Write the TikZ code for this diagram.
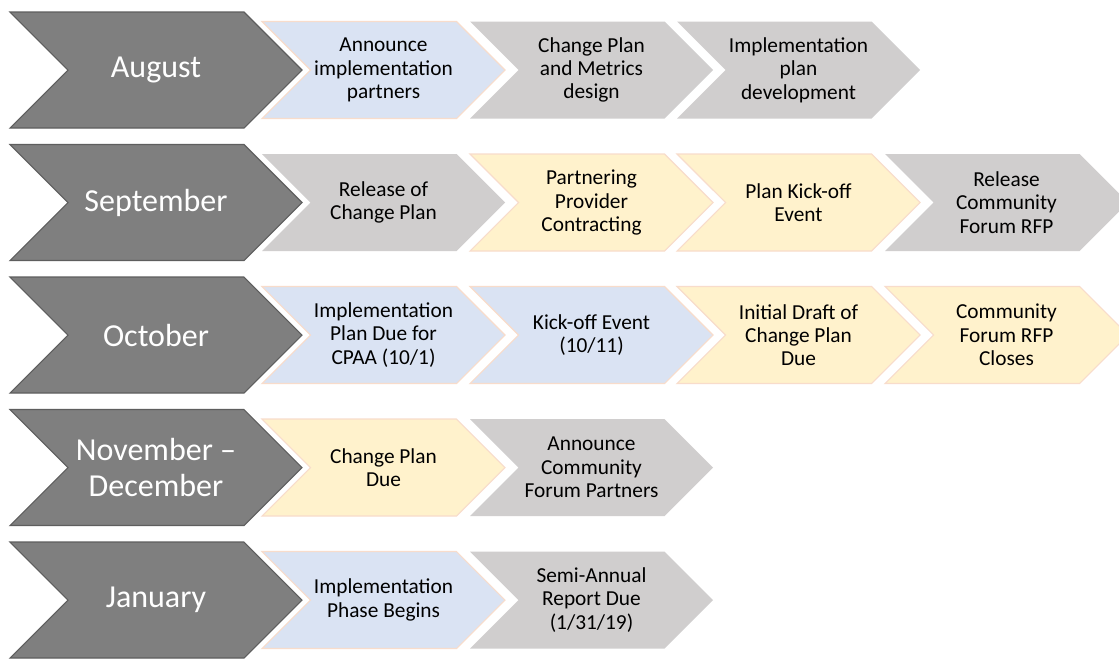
\documentclass[tikz,border=0pt]{standalone}
\usepackage{fontspec}
\setmainfont{Carlito}
\definecolor{monthfill}{HTML}{7F7F7F}
\definecolor{monthedge}{HTML}{5E5E5E}
\definecolor{bluefill}{HTML}{DAE3F3}
\definecolor{grayfill}{HTML}{D0CECE}
\definecolor{yellowfill}{HTML}{FFF2CC}
\definecolor{peachline}{HTML}{F8DCCB}
\tikzset{
  bluetask/.style={fill=bluefill, draw=peachline, line width=0.8pt},
  graytask/.style={fill=grayfill},
  yellowtask/.style={fill=yellowfill, draw=peachline, line width=0.8pt},
  tasktext/.style={align=center, inner sep=0pt, text=black,
    font=\fontsize{16}{17.5}\selectfont},
  monthtext/.style={align=center, inner sep=0pt, text=white,
    font=\fontsize{24}{27.5}\selectfont},
}
% task chevron: style, node name, left x, centre y, text
\newcommand\taskbox[5]{%
  \path[#1] (#3,#4-48.5) -- (#3+194.5,#4-48.5) -- (#3+243,#4)
    -- (#3+194.5,#4+48.5) -- (#3,#4+48.5) -- (#3+48.5,#4) -- cycle;
  \node[tasktext] (#2) at (#3+121.5,#4) {#5};}
% month chevron: node name, centre y, text
\newcommand\monthpath[1]{(10,#1-58) -- (244,#1-58)
    -- (302,#1) -- (244,#1+58) -- (10,#1+58) -- (68,#1) -- cycle}
\newcommand\monthbox[3]{%
  \path[draw=white, line width=4.5pt, line join=miter] \monthpath{#2};
  \path[fill=monthfill, draw=monthedge, line width=0.8pt] \monthpath{#2};
  \node[monthtext] (#1) at (156,#2) {#3};}
\begin{document}
\begin{tikzpicture}[x=0.75pt, y=-0.75pt]
\clip (0,0) rectangle (1119,658);
\fill[white] (0,0) rectangle (1119,658);

% August
\taskbox{bluetask}{aug1}{262}{70}{Announce\\implementation\\partners}
\taskbox{graytask}{aug2}{470}{70}{Change Plan\\and Metrics\\design}
\taskbox{graytask}{aug3}{677}{70}{Implementation\\plan\\development}
\monthbox{aug}{70}{August}

% September
\taskbox{graytask}{sep1}{262}{202.5}{Release of\\Change Plan}
\taskbox{yellowtask}{sep2}{470}{202.5}{Partnering\\Provider\\Contracting}
\taskbox{yellowtask}{sep3}{677}{202.5}{Plan Kick-off\\Event}
\taskbox{graytask}{sep4}{885}{202.5}{Release\\Community\\Forum RFP}
\monthbox{sep}{202.5}{September}

% October
\taskbox{bluetask}{oct1}{262}{335}{Implementation\\Plan Due for\\CPAA (10/1)}
\taskbox{bluetask}{oct2}{470}{335}{Kick-off Event\\(10/11)}
\taskbox{yellowtask}{oct3}{677}{335}{Initial Draft of\\Change Plan\\Due}
\taskbox{yellowtask}{oct4}{885}{335}{Community\\Forum RFP\\Closes}
\monthbox{oct}{335}{October}

% November - December
\taskbox{yellowtask}{nov1}{262}{467.5}{Change Plan\\Due}
\taskbox{graytask}{nov2}{470}{467.5}{Announce\\Community\\Forum Partners}
\monthbox{nov}{467.5}{November –\\December}

% January
\taskbox{bluetask}{jan1}{262}{600}{Implementation\\Phase Begins}
\taskbox{graytask}{jan2}{470}{600}{Semi-Annual\\Report Due\\(1/31/19)}
\monthbox{jan}{600}{January}
\end{tikzpicture}
\end{document}
